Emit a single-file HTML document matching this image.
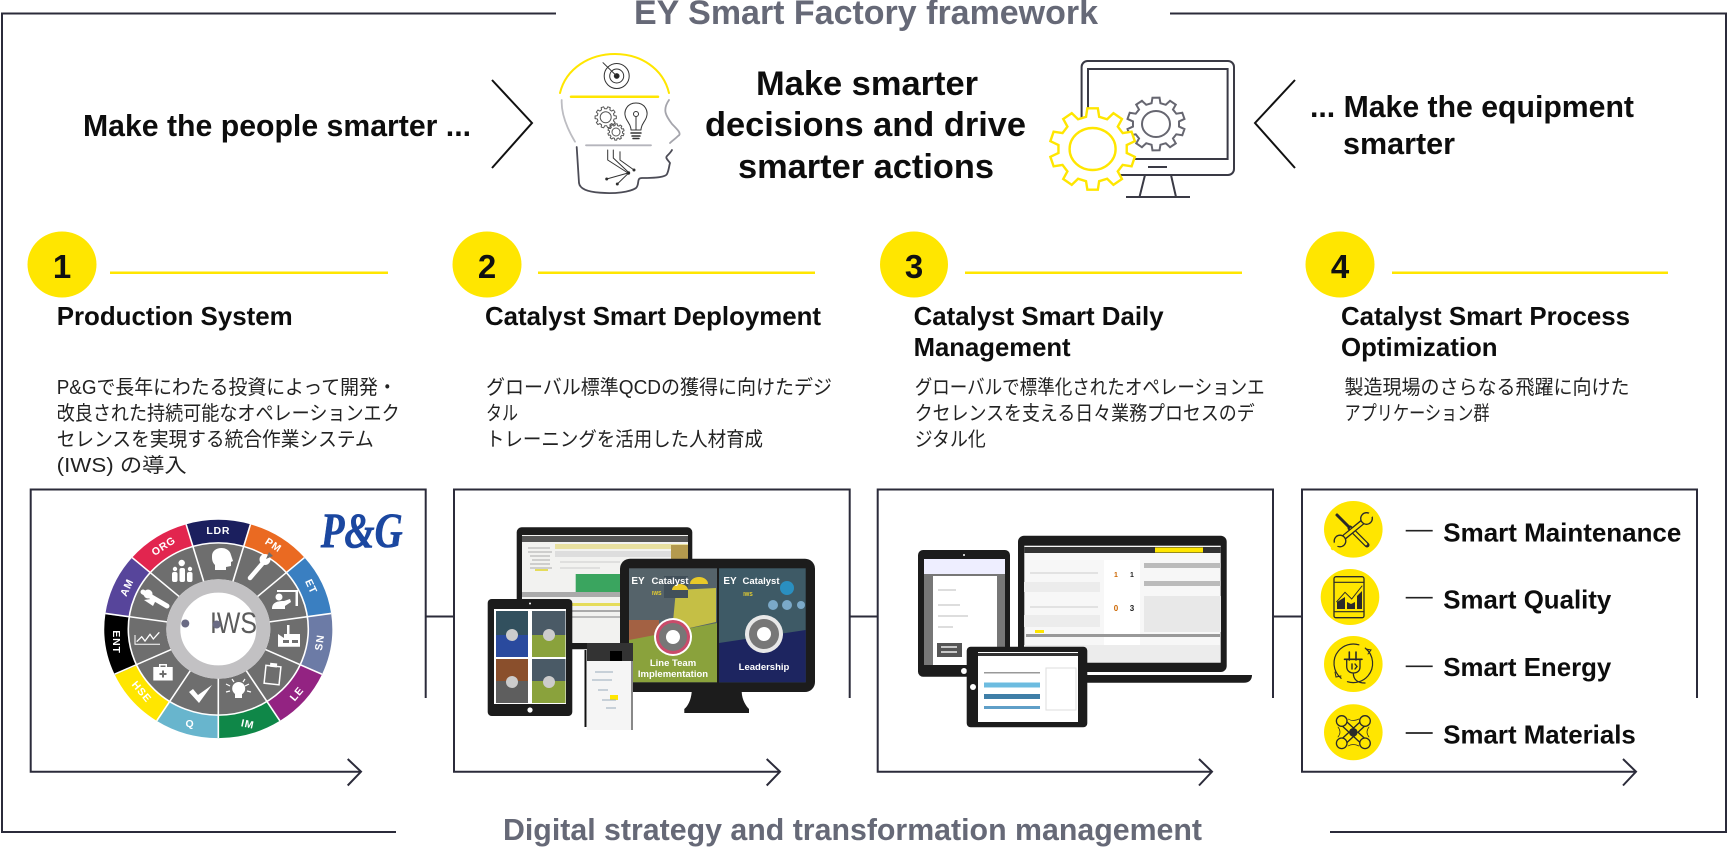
<!DOCTYPE html>
<html lang="ja"><head><meta charset="utf-8"><title>EY Smart Factory framework</title>
<style>
html,body{margin:0;padding:0;background:#fff;width:1728px;height:848px;overflow:hidden}
svg{display:block}
.b{font-family:"Liberation Sans","Noto Sans CJK JP",sans-serif;font-weight:700;fill:#0d0d0d}
.t{font-size:30.5px}.c{font-size:34px}.h{font-size:26px}.s{font-size:26px}
.g{font-family:"Liberation Sans",sans-serif;font-weight:700;font-size:34px;fill:#666977}
.g2{font-family:"Liberation Sans",sans-serif;font-weight:700;font-size:31px;fill:#666977}
.j{font-family:"Liberation Sans","Noto Sans CJK JP",sans-serif;font-size:20px;fill:#222}
.n{font-family:"Liberation Sans",sans-serif;font-weight:700;font-size:33px;fill:#111;text-anchor:middle}
.l{font-family:"Liberation Sans",sans-serif;font-weight:700;font-size:10.5px;letter-spacing:.8px;fill:#fff;text-anchor:middle}
.f{fill:none;stroke:#2b2b3a;stroke-width:2}
.d{fill:#1c1c1c}
.ic{fill:none;stroke:#2a2a2a;stroke-width:1.3}
</style></head><body>
<svg width="1728" height="848" viewBox="0 0 1728 848" xmlns="http://www.w3.org/2000/svg">
<defs>
<polygon id="gear" points=".785,-.153 .993,-.122 .993,.122 .785,.153 .725,.338 .875,.485 .731,.682 .546,.585 .388,.700 .423,.906 .191,.982 .097,.794 -.097,.794 -.191,.982 -.423,.906 -.388,.700 -.546,.585 -.731,.682 -.875,.485 -.725,.338 -.785,.153 -.993,.122 -.993,-.122 -.785,-.153 -.725,-.338 -.875,-.485 -.731,-.682 -.546,-.585 -.388,-.700 -.423,-.906 -.191,-.982 -.097,-.794 .097,-.794 .191,-.982 .423,-.906 .388,-.700 .546,-.585 .731,-.682 .875,-.485 .725,-.338" vector-effect="non-scaling-stroke"/>
</defs>

<!-- outer frame -->
<polyline class="f" points="556,13.5 2,13.5 2,832 396,832"/>
<polyline class="f" points="1170,13.5 1726,13.5 1726,832 1330,832"/>
<text class="g" x="634" y="24" textLength="464" lengthAdjust="spacingAndGlyphs">EY Smart Factory framework</text>
<text class="g2" x="503" y="840" textLength="699" lengthAdjust="spacingAndGlyphs">Digital strategy and transformation management</text>

<!-- top row -->
<text class="b t" x="83" y="136" textLength="388" lengthAdjust="spacingAndGlyphs">Make the people smarter ...</text>
<polyline points="492,80 532,123 492,168" fill="none" stroke="#111" stroke-width="2"/>
<polyline points="1295,80 1255,123 1295,168" fill="none" stroke="#111" stroke-width="2"/>
<text class="b c" x="756" y="95" textLength="222" lengthAdjust="spacingAndGlyphs">Make smarter</text>
<text class="b c" x="705" y="136" textLength="321" lengthAdjust="spacingAndGlyphs">decisions and drive</text>
<text class="b c" x="738" y="178" textLength="256" lengthAdjust="spacingAndGlyphs">smarter actions</text>
<text class="b t" x="1310" y="117" textLength="324" lengthAdjust="spacingAndGlyphs">... Make the equipment</text>
<text class="b t" x="1343" y="154" textLength="112" lengthAdjust="spacingAndGlyphs">smarter</text>

<!-- head icon -->
<g fill="none" stroke-linecap="round" stroke-linejoin="round">
<path d="M560,93 C566,68 590,54 615,54 C640,54 663,68 669,93" stroke="#ffe600" stroke-width="2"/>
<path d="M571,96.7H658" stroke="#ffe600" stroke-width="2.5"/>
<path d="M561.7,100 C561,115 568,130 575,141.7" stroke="#bdbdc2" stroke-width="1.8"/>
<path d="M586,145.3H651" stroke="#b5b5bc" stroke-width="1.8"/>
<path d="M669,100 C662,110 666,116 672,124 C678,130 682,134 678,136 C675,139 672,141 670,143" stroke="#a5a5ac" stroke-width="1.8"/>
<path d="M576.7,147 L579,183 C580,190 590,192 600,192.7 C615,194 630,192 636,188 C640,184 636,178 642,178 C650,178 665,178 667,174 C669,170 669,166 670,163 C668,160 665,158 667,156 C669,154 671,152 672,150" stroke="#4c4c56" stroke-width="1.8"/>
<g stroke="#333" stroke-width="1">
<circle cx="616.7" cy="76" r="12.5"/><circle cx="616.7" cy="76" r="7"/><circle cx="616.7" cy="76" r="2.4" fill="#222"/>
<path d="M616.7,76 L603,62.7"/>
<path d="M607.7,150 V160 L628,173 L606.7,179"/><path d="M613.3,150 V158 L629,172.7 L617.3,184"/><path d="M620,151.7 V160 L634,170"/>
<circle cx="628.5" cy="173" r="1.2" fill="#222"/><circle cx="606.7" cy="179" r="1" fill="#222"/><circle cx="617.3" cy="184" r="1" fill="#222"/><circle cx="634" cy="170" r="1" fill="#222"/>
<path d="M636,103 C627,103 623.500,111 625.500,117 C627,122 631,124 631,130 H641 C641,124 645,122 646.500,117 C648.500,111 645,103 636,103Z"/>
<path d="M631,133 H641 M632,136 H640 M633,138.500 H639" stroke-width="1.5"/><path d="M636,130V117"/><circle cx="636" cy="114" r="2.500"/>
</g>
<use href="#gear" transform="translate(605.7,117.3) scale(10.7)" stroke="#555" stroke-width="1"/>
<circle cx="605.7" cy="117.3" r="5.500" stroke="#555" stroke-width="1"/>
<use href="#gear" transform="translate(616,132) scale(8.2) rotate(20)" fill="#fff" stroke="#555" stroke-width="1"/>
<circle cx="616" cy="132" r="4" stroke="#555" stroke-width="1"/>
</g>

<!-- monitor icon -->
<g fill="none" stroke="#3a3a45" stroke-width="2">
<rect x="1081.6" y="61" width="152.4" height="114" rx="6"/>
<rect x="1088" y="69" width="139.6" height="90"/>
<path d="M1148,167H1167 M1145,175 L1139.5,197 M1171,175 L1176,197 M1126,197H1190"/>
<use href="#gear" transform="translate(1156,124) scale(29,26.5) rotate(18)" stroke="#666670"/>
<ellipse cx="1156" cy="124" rx="14" ry="13" stroke="#666670"/>
</g>
<use href="#gear" transform="translate(1092.6,149) scale(43,41) rotate(18)" fill="#fff" stroke="#ffe600" stroke-width="2.4"/>
<ellipse cx="1092.6" cy="149" rx="23" ry="21" fill="#fff" stroke="#ffe600" stroke-width="2.4"/>

<!-- numbered headers -->
<g fill="#ffe600">
<ellipse cx="62" cy="264.5" rx="34.5" ry="33"/><ellipse cx="487" cy="264.5" rx="34.5" ry="33"/>
<ellipse cx="914" cy="264.5" rx="34" ry="33"/><ellipse cx="1340" cy="264.5" rx="34.5" ry="33"/>
<rect x="110" y="271.5" width="278" height="2.5"/><rect x="538" y="271.5" width="277" height="2.5"/>
<rect x="965" y="271.5" width="277" height="2.5"/><rect x="1392" y="271.5" width="276" height="2.5"/>
</g>
<text class="n" x="62" y="278">1</text><text class="n" x="487" y="278">2</text>
<text class="n" x="914" y="278">3</text><text class="n" x="1340" y="278">4</text>

<text class="b h" x="56.7" y="325" textLength="236" lengthAdjust="spacingAndGlyphs">Production System</text>
<text class="b h" x="485" y="325" textLength="336" lengthAdjust="spacingAndGlyphs">Catalyst Smart Deployment</text>
<text class="b h" x="913.6" y="325" textLength="250" lengthAdjust="spacingAndGlyphs">Catalyst Smart Daily</text>
<text class="b h" x="913.6" y="356" textLength="157" lengthAdjust="spacingAndGlyphs">Management</text>
<text class="b h" x="1341" y="325" textLength="289" lengthAdjust="spacingAndGlyphs">Catalyst Smart Process</text>
<text class="b h" x="1341" y="356" textLength="156.6" lengthAdjust="spacingAndGlyphs">Optimization</text>

<text class="j" x="56.7" y="394" textLength="340" lengthAdjust="spacingAndGlyphs">P&amp;Gで長年にわたる投資によって開発・</text>
<text class="j" x="56.7" y="420" textLength="343" lengthAdjust="spacingAndGlyphs">改良された持続可能なオペレーションエク</text>
<text class="j" x="56.7" y="446" textLength="317" lengthAdjust="spacingAndGlyphs">セレンスを実現する統合作業システム</text>
<text class="j" x="56.7" y="472" textLength="130" lengthAdjust="spacingAndGlyphs">(IWS) の導入</text>
<text class="j" x="486" y="394" textLength="346" lengthAdjust="spacingAndGlyphs">グローバル標準QCDの獲得に向けたデジ</text>
<text class="j" x="486" y="420" textLength="32" lengthAdjust="spacingAndGlyphs">タル</text>
<text class="j" x="486" y="446" textLength="277" lengthAdjust="spacingAndGlyphs">トレーニングを活用した人材育成</text>
<text class="j" x="914.7" y="394" textLength="350" lengthAdjust="spacingAndGlyphs">グローバルで標準化されたオペレーションエ</text>
<text class="j" x="914.7" y="420" textLength="340" lengthAdjust="spacingAndGlyphs">クセレンスを支える日々業務プロセスのデ</text>
<text class="j" x="914.7" y="446" textLength="71" lengthAdjust="spacingAndGlyphs">ジタル化</text>
<text class="j" x="1344.5" y="394" textLength="285" lengthAdjust="spacingAndGlyphs">製造現場のさらなる飛躍に向けた</text>
<text class="j" x="1344.5" y="420" textLength="145" lengthAdjust="spacingAndGlyphs">アプリケーション群</text>

<!-- boxes -->
<g class="f">
<polyline points="425.7,698 425.7,489.5 30.7,489.5 30.7,771.7 361,771.7"/>
<polyline points="347.7,759 361,771.7 347.7,785.5"/>
<polyline points="849.7,698 849.7,489.5 454,489.5 454,771.7 780,771.7"/>
<polyline points="766.7,759 780,771.7 766.7,785.5"/>
<polyline points="1273,698 1273,489.5 877.7,489.5 877.7,771.7 1212,771.7"/>
<polyline points="1199,759 1212,771.7 1199,785.5"/>
<polyline points="1697,698 1697,489.5 1302,489.5 1302,771.7 1636,771.7"/>
<polyline points="1623,759 1636,771.7 1623,785.5"/>
<path d="M425.7,616.5H454 M849.7,616.5H877.7 M1273,616.5H1302"/>
</g>

<!-- IWS wheel -->
<g transform="translate(218.3,629) scale(1,.957)">
<circle r="71" fill="none" stroke="#6e6e6e" stroke-width="38"/>
<g fill="none" stroke-width="24">
<circle r="102" pathLength="11" stroke-dasharray="1 10" stroke="#1b1f5e" transform="rotate(-106.4)"/>
<circle r="102" pathLength="11" stroke-dasharray="1 10" stroke="#ea6a22" transform="rotate(-73.6)"/>
<circle r="102" pathLength="11" stroke-dasharray="1 10" stroke="#3a7fc1" transform="rotate(-40.9)"/>
<circle r="102" pathLength="11" stroke-dasharray="1 10" stroke="#6c7ba6" transform="rotate(-8.2)"/>
<circle r="102" pathLength="11" stroke-dasharray="1 10" stroke="#932382" transform="rotate(24.5)"/>
<circle r="102" pathLength="11" stroke-dasharray="1 10" stroke="#0f8748" transform="rotate(57.3)"/>
<circle r="102" pathLength="11" stroke-dasharray="1 10" stroke="#68b5cd" transform="rotate(90)"/>
<circle r="102" pathLength="11" stroke-dasharray="1 10" stroke="#ffe600" transform="rotate(122.7)"/>
<circle r="102" pathLength="11" stroke-dasharray="1 10" stroke="#000" transform="rotate(155.5)"/>
<circle r="102" pathLength="11" stroke-dasharray="1 10" stroke="#57459b" transform="rotate(188.2)"/>
<circle r="102" pathLength="11" stroke-dasharray="1 10" stroke="#e2254f" transform="rotate(220.9)"/>
</g>
<circle r="90" fill="none" stroke="#fff" stroke-width="1.6"/>
<g stroke="#fff" stroke-width="1.6">
<path d="M0,50V114" transform="rotate(0)"/><path d="M0,50V114" transform="rotate(32.7)"/>
<path d="M0,50V114" transform="rotate(65.5)"/><path d="M0,50V114" transform="rotate(98.2)"/>
<path d="M0,50V114" transform="rotate(130.9)"/><path d="M0,50V114" transform="rotate(163.6)"/>
<path d="M0,50V114" transform="rotate(196.4)"/><path d="M0,50V114" transform="rotate(229.1)"/>
<path d="M0,50V114" transform="rotate(261.8)"/><path d="M0,50V114" transform="rotate(294.5)"/>
<path d="M0,50V114" transform="rotate(327.3)"/>
</g>
<circle r="45" fill="#fff" stroke="#c2c1c3" stroke-width="14"/>
</g>
<text x="210" y="633" font-family="Liberation Sans,sans-serif" font-size="30" fill="#5c5c5c" textLength="47" lengthAdjust="spacingAndGlyphs">IWS</text>
<circle cx="185.3" cy="623.5" r="4" fill="#6a6b84"/><circle cx="216.7" cy="624.5" r="4" fill="#6a6b84"/>
<text class="l" transform="translate(218.3,534)">LDR</text>
<text class="l" transform="translate(271.500,548) rotate(33)">PM</text>
<text class="l" transform="translate(308,588) rotate(65)">ET</text>
<text class="l" transform="translate(323,643) rotate(-82)">SN</text>
<text class="l" transform="translate(299.500,696) rotate(-50)">LE</text>
<text class="l" transform="translate(247,727.500) rotate(12)">IM</text>
<text class="l" transform="translate(190,727)">Q</text>
<text class="l" transform="translate(139,694) rotate(50)">HSE</text>
<text class="l" transform="translate(113,642) rotate(90)">ENT</text>
<text class="l" transform="translate(130,589) rotate(-65)">AM</text>
<text class="l" transform="translate(165.500,549) rotate(-33)">ORG</text>
<!-- wheel icons -->
<g fill="#fff" stroke="none">
<path d="M212,556 C212,546 229,545 231,555 L233,561 L231,562 V566 L226,567 V570 H215 V565 C212,562 212,559 212,556Z"/>
<path d="M250,578 L262,564" stroke="#fff" stroke-width="4.5" stroke-linecap="round"/>
<circle cx="265" cy="559.500" r="5.500"/><path d="M266,559 L269,552 L273,556Z" fill="#6e6e6e"/>
<circle cx="279" cy="597" r="3.500"/><path d="M272,609 C272,602 278,601 284,601 L290,599 L291,602 L285,606 V609Z"/>
<path d="M277,590 H298 V606 H295.500 V592 H277Z"/>
<path d="M278,646.700 V634 L284,638 V634 H287 V625 H289.500 V634 H300 V646.700Z"/>
<path d="M283,640h6v3h-6Z M292,640h6v3h-6Z" fill="#6e6e6e"/>
<rect x="265" y="666" width="15" height="18" fill="none" stroke="#fff" stroke-width="1.500" transform="rotate(6 272 675)"/>
<rect x="269" y="663" width="7" height="4" transform="rotate(6 272 675)"/>
<circle cx="238.700" cy="688.500" r="6.500"/><path d="M235,694h7v4h-7Z"/>
<path d="M226,684l4,2M226,692l4,-1M249,684l-4,2M251,692l-4,-1M232,679l2,3M245,679l-2,3" stroke="#fff" stroke-width="1.200"/>
<path d="M189,692 L193,689 L198,695 L212,685 L199,703Z"/>
<path d="M153.300,667h19.400v13.500h-19.400Z M159,667v-3h8v3h-1.500v-1.500h-5v1.500Z"/>
<path d="M162,670.500h2v2.500h2.500v2h-2.500v2.500h-2v-2.500h-2.500v-2h2.500Z" fill="#6e6e6e"/>
<path d="M135,635V644.300H160" fill="none" stroke="#fff" stroke-width="1"/>
<path d="M136.700,641.700l5,-5l3.300,4.300l5,-6.700l3.300,4.700l6,-6.700" fill="none" stroke="#fff" stroke-width="1.300"/>
<path d="M143,592 L167,606" stroke="#fff" stroke-width="5" stroke-linecap="round"/><circle cx="148" cy="594" r="4.500"/><path d="M144,600 L157,598 L153,606Z"/>
<circle cx="181.700" cy="563" r="3.200"/><circle cx="175" cy="569" r="2.200"/><circle cx="190" cy="569" r="2.200"/>
<rect x="172" y="572" width="5.500" height="10" rx="2"/><rect x="179.500" y="568" width="5.500" height="14" rx="2"/><rect x="187" y="572" width="5.500" height="10" rx="2"/>
</g>
<text x="320.7" y="547" font-family="Liberation Serif,serif" font-weight="700" font-style="italic" font-size="50" fill="#1b47a0" stroke="#1b47a0" stroke-width=".6" textLength="82" lengthAdjust="spacingAndGlyphs">P&amp;G</text>

<!-- box 2 devices -->
<rect class="d" x="516.7" y="527.3" width="175.6" height="122" rx="5"/>
<rect x="522" y="535" width="166" height="108" fill="#f2f2f0"/>
<rect x="522" y="536" width="166" height="6" fill="#555"/>
<rect x="555" y="544" width="133" height="5" fill="#e8e0a0"/><rect x="555" y="551" width="133" height="6" fill="#ddd"/>
<rect x="671" y="545" width="17" height="17" fill="#b49a4e"/>
<path d="M528,548h22M528,552h24M530,556h20M532,560h18M530,564h20M530,568h22" stroke="#aaa" stroke-width="1"/>
<rect x="535" y="569" width="13" height="2" fill="#e5dc5a"/>
<rect x="575.7" y="574" width="50" height="18" fill="#3aa55f"/>
<path d="M560,562h60M560,568h40" stroke="#ccc" stroke-width="1"/>
<rect x="522" y="592" width="100" height="5" fill="#aaa"/>
<rect x="570" y="603" width="60" height="3" fill="#e5dc5a"/>
<rect x="570" y="610" width="60" height="2" fill="#aaa"/><rect x="570" y="616" width="60" height="2" fill="#bbb"/>
<rect x="620" y="558.7" width="195" height="133.3" rx="10" fill="#1c1c1c"/>
<rect x="629" y="568.3" width="88" height="114" fill="#55636a"/>
<rect x="629" y="620" width="30" height="22" fill="#b6603a" opacity=".8"/>
<path d="M676,590 L716,588 V622 L672,632Z" fill="#c5bf45"/>
<rect x="664" y="576" width="24" height="22" fill="#42505a"/>
<path d="M672,590 a8,6 0 0 1 16,0Z M690,584 a9,7 0 0 1 18,0Z" fill="#e8c928"/>
<path d="M629,640 L717,623 V682.3 H629Z" fill="#8aa23c"/>
<rect x="719" y="568.3" width="86.7" height="114" fill="#3e5a66"/>
<path d="M719,643 L805.7,630 V682.3 H719Z" fill="#1d2560"/>
<circle cx="787" cy="588" r="7" fill="#2a8fc0"/><circle cx="787" cy="605" r="5" fill="#7ba9c8"/><circle cx="773" cy="605" r="5" fill="#7ba9c8"/><circle cx="801" cy="605" r="4" fill="#7ba9c8"/>
<circle cx="673" cy="637" r="19" fill="#fff"/><circle cx="673" cy="637" r="17" fill="#c94b6a"/><circle cx="673" cy="637" r="14" fill="#777"/><circle cx="673" cy="637" r="7" fill="#fff"/>
<circle cx="764" cy="634" r="19" fill="#e8e8e8"/><circle cx="764" cy="634" r="15" fill="#777"/><circle cx="764" cy="634" r="7" fill="#fff"/>
<g font-family="Liberation Sans,sans-serif" font-weight="700" fill="#fff" text-anchor="middle">
<text x="638" y="584" font-size="10">EY</text><text x="670" y="584" font-size="9.5">Catalyst</text>
<text x="730" y="584" font-size="10">EY</text><text x="761" y="584" font-size="9.5">Catalyst</text>
<text x="656.7" y="595" font-size="5" fill="#e8d030">IWS</text><text x="748" y="596" font-size="5" fill="#e8d030">IWS</text>
<text x="673" y="666" font-size="9.5">Line Team</text><text x="673" y="677" font-size="9.5">Implementation</text>
<text x="764" y="670" font-size="9.5">Leadership</text>
</g>
<path d="M691.7,692 H741.7 C742,700 746,706 749,709 V713 H684.3 V709 C688,706 691,700 691.7,692Z" fill="#1c1c1c"/>
<rect class="d" x="487.7" y="599" width="84.6" height="117" rx="4"/>
<rect x="494" y="609" width="72" height="95" fill="#fff"/>
<rect x="496" y="611" width="32" height="46" fill="#2a4a9e"/><rect x="496" y="611" width="32" height="24" fill="#32505e"/>
<rect x="532" y="611" width="33.5" height="46" fill="#8aa23c"/><rect x="532" y="611" width="33.5" height="24" fill="#4a5a66"/>
<rect x="496" y="659" width="32" height="44" fill="#5e5e5e"/><rect x="496" y="659" width="32" height="22" fill="#8a4f2c"/>
<rect x="532" y="659" width="33.5" height="44" fill="#8aa23c"/><rect x="532" y="659" width="33.5" height="22" fill="#4a5a66"/>
<g fill="#ccc"><circle cx="512" cy="635" r="6"/><circle cx="549" cy="635" r="6"/><circle cx="512" cy="682" r="6"/><circle cx="549" cy="682" r="6"/></g>
<circle cx="530" cy="710" r="2.6" fill="#fff"/><circle cx="530" cy="603.500" r="1" fill="#fff"/>
<rect x="587" y="645" width="46" height="85" fill="#f5f5f5"/>
<rect x="587" y="643" width="46" height="18" fill="#333"/><rect x="610" y="651" width="12" height="10" fill="#000"/>
<path d="M585.5,650V727" stroke="#111" stroke-width="2"/>
<rect x="610" y="695" width="8" height="5" fill="#ffe600"/>
<rect x="631" y="661" width="2" height="69" fill="#888"/>
<path d="M595,672h18M592,680h20M598,690h10M602,700h14M606,708h10" stroke="#9ab" stroke-width="1"/>

<!-- box 3 devices -->
<rect class="d" x="918" y="550" width="92" height="126.7" rx="5"/>
<rect x="924" y="559" width="81" height="106" fill="#777"/>
<rect x="924" y="559" width="81" height="15" fill="#eef"/>
<rect x="933" y="576" width="64" height="89" fill="#fff"/>
<rect x="937" y="643" width="25" height="14" fill="#555"/>
<path d="M941,647h16M941,652h16" stroke="#eee" stroke-width="1.500"/>
<path d="M938,590h18M938,605h22M938,616h30M938,627h15" stroke="#bbb" stroke-width="1"/>
<circle cx="964" cy="671" r="3" fill="#fff"/><circle cx="964" cy="555" r="1" fill="#fff"/>
<rect class="d" x="1018" y="535.7" width="208.7" height="136.3" rx="6"/>
<rect x="1024.3" y="545.7" width="196.4" height="117" fill="#f7f7f7"/>
<rect x="1024.3" y="547" width="196.4" height="6" fill="#333"/>
<rect x="1155" y="547.5" width="48" height="5" fill="#ffe600"/>
<rect x="1024" y="582" width="76" height="10" fill="#ececec"/><rect x="1024" y="615" width="76" height="12" fill="#ececec"/>
<path d="M1030,573H1098 M1030,607H1098" stroke="#ccc" stroke-width="1"/>
<rect x="1104" y="560" width="36" height="87" fill="#fff"/>
<rect x="1144" y="563" width="77" height="5" fill="#bbb"/><rect x="1144" y="581" width="77" height="5" fill="#bbb"/>
<rect x="1144" y="596" width="77" height="36" fill="#e8e8e8"/>
<rect x="1026" y="634" width="194" height="3" fill="#999"/>
<rect x="1035" y="630" width="9" height="3" fill="#ffe600"/>
<rect x="1024" y="645" width="196" height="17" fill="#ececec"/>
<text x="1116" y="577" font-size="7" font-weight="700" fill="#c60" font-family="Liberation Sans,sans-serif" text-anchor="middle">1</text><text x="1132" y="577" font-size="7" font-weight="700" fill="#222" font-family="Liberation Sans,sans-serif" text-anchor="middle">1</text>
<text x="1116" y="611" font-size="8" font-weight="700" fill="#c60" font-family="Liberation Sans,sans-serif" text-anchor="middle">0</text><text x="1132" y="611" font-size="8" font-weight="700" fill="#222" font-family="Liberation Sans,sans-serif" text-anchor="middle">3</text>
<path d="M1087,675 H1252 C1252,680 1249,682.7 1244,682.7 H1087Z" fill="#1c1c1c"/>
<rect class="d" x="966.7" y="646.7" width="120.6" height="80.6" rx="4"/>
<rect x="978" y="652" width="100" height="70" fill="#fff"/>
<rect x="978" y="653" width="100" height="3" fill="#333"/>
<rect x="984" y="672" width="56" height="1.500" fill="#999"/>
<rect x="984" y="682.500" width="56" height="5" fill="#6dbce0"/><rect x="984" y="694" width="56" height="5" fill="#3f7fa8"/><rect x="984" y="706" width="56" height="3" fill="#5f9fc8"/>
<path d="M1046,668H1076V710H1046Z" fill="none" stroke="#ddd" stroke-width="1"/>
<circle cx="973" cy="687" r="3" fill="#fff"/>

<!-- smart items -->
<g fill="#ffe600">
<ellipse cx="1353.3" cy="529.3" rx="29.3" ry="28.3"/><ellipse cx="1350" cy="597" rx="29.3" ry="28"/>
<ellipse cx="1353.3" cy="664" rx="29.3" ry="28"/><ellipse cx="1353.3" cy="732.3" rx="29.3" ry="28"/>
</g>
<g fill="none" stroke-linecap="round">
<!-- tools -->
<path d="M1337,515 L1349,527" stroke="#2a2a2a" stroke-width="3"/>
<path d="M1350,528 L1367,545" stroke="#2a2a2a" stroke-width="5"/><path d="M1351,529 L1366,544" stroke="#ffe600" stroke-width="2.6"/>
<path d="M1342,539 L1365,520" stroke="#2a2a2a" stroke-width="5.500"/><path d="M1343,538 L1364,521" stroke="#ffe600" stroke-width="3"/>
<circle cx="1366.500" cy="518.500" r="5.800" fill="#ffe600" stroke="#2a2a2a" stroke-width="1.300"/>
<circle cx="1340" cy="541" r="5.800" fill="#ffe600" stroke="#2a2a2a" stroke-width="1.300"/>
<path d="M1368,518 L1373,512 M1338,542 L1333,548" stroke="#ffe600" stroke-width="4.500"/>
<!-- tablet -->
<rect x="1334" y="576.7" width="30" height="41" rx="2" stroke="#2a2a2a" stroke-width="1.300"/>
<path d="M1334,582.3H1364M1334,611.700H1364" stroke="#2a2a2a" stroke-width="1.200"/>
<path d="M1336.700,601.700 L1345,592.300 L1351.700,599 L1362,586" stroke="#2a2a2a" stroke-width="1"/>
<path d="M1337,609 V602 L1345,597 V609Z M1347,609 V602 L1351,604 L1355,602 V609Z M1357,609 V596 L1362,591 V609Z" fill="#2a2a2a" stroke="none"/>
<!-- plug -->
<circle cx="1353.3" cy="663.300" r="19.300" stroke="#2a2a2a" stroke-width="1.200" pathLength="100" stroke-dasharray="44 6 44 6" transform="rotate(-50 1353.3 663.300)"/>
<path d="M1349.300,652V660 M1356,652V660 M1344.500,659.300H1362" stroke="#2a2a2a" stroke-width="1.600"/>
<path d="M1346.700,659.300V667 C1347,671 1350,673 1353.300,673 C1357,673 1360,671 1360,667V659.300 M1353.300,673 C1353.300,680 1358,683 1365,683" stroke="#2a2a2a" stroke-width="1.300"/>
<path d="M1352,664 V669 M1355,664 L1357,666.500 L1355,669" stroke="#2a2a2a" stroke-width="1.400"/>
<path d="M1366,649 L1371,650 L1368,654 M1335,672 L1336,677 L1341,676" stroke="#2a2a2a" stroke-width="1"/>
<!-- drone -->
<path d="M1343,722.500 L1364,742 M1364,722.500 L1343,742" stroke="#2a2a2a" stroke-width="7.500"/>
<path d="M1343,722.500 L1364,742 M1364,722.500 L1343,742" stroke="#ffe600" stroke-width="4.800"/>
<circle cx="1341.700" cy="721" r="5.300" fill="#ffe600" stroke="#2a2a2a" stroke-width="1.300"/><circle cx="1365" cy="721" r="5.300" fill="#ffe600" stroke="#2a2a2a" stroke-width="1.300"/>
<circle cx="1341.700" cy="743.300" r="5.300" fill="#ffe600" stroke="#2a2a2a" stroke-width="1.300"/><circle cx="1365" cy="743.300" r="5.300" fill="#ffe600" stroke="#2a2a2a" stroke-width="1.300"/>
<circle cx="1353.300" cy="732.300" r="4.300" fill="#2a2a2a" stroke="none"/>
<path d="M1338,727 Q1342,732 1338,737 M1369,727 Q1365,732 1369,737 M1348,719 Q1353,722 1359,719 M1348,746 Q1353,743 1359,746" stroke="#2a2a2a" stroke-width=".7"/>
</g>
<path d="M1405.700,530.700H1432.700M1405.700,597.700H1432.700M1405.700,666.300H1432.700M1405.700,733H1432.700" stroke="#222" stroke-width="1.700"/>
<text class="b s" x="1443.3" y="541.500" textLength="238" lengthAdjust="spacingAndGlyphs">Smart Maintenance</text>
<text class="b s" x="1443.3" y="608.500" textLength="168" lengthAdjust="spacingAndGlyphs">Smart Quality</text>
<text class="b s" x="1443.3" y="676" textLength="168" lengthAdjust="spacingAndGlyphs">Smart Energy</text>
<text class="b s" x="1443.3" y="743.500" textLength="192.5" lengthAdjust="spacingAndGlyphs">Smart Materials</text>
</svg>
</body></html>
